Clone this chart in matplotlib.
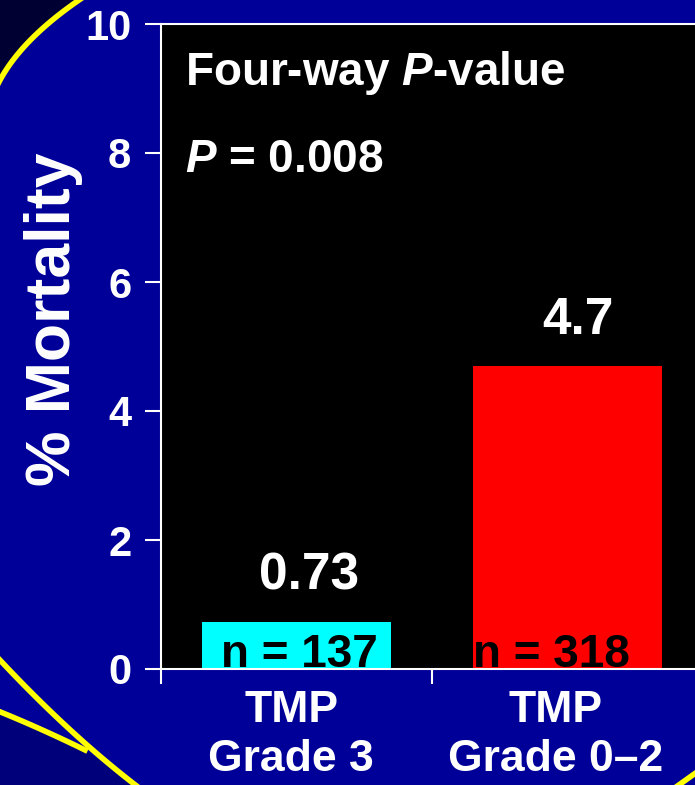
import numpy as np
import matplotlib.pyplot as plt
from matplotlib.lines import Line2D
from matplotlib.patches import Polygon

plt.rcParams['font.family'] = ['Liberation Sans', 'DejaVu Sans']
plt.rcParams['font.weight'] = 'bold'
plt.rcParams['mathtext.fontset'] = 'custom'
plt.rcParams['mathtext.rm'] = 'Liberation Sans:bold'
plt.rcParams['mathtext.it'] = 'Liberation Sans:bold:italic'

# data
groups = ["TMP\nGrade 3", "TMP\nGrade 0\u20132"]
mortality = [0.73, 4.7]
value_labels = ["0.73", "4.7"]
n_counts = [137, 318]
bar_colors = ["#00ffff", "#ff0000"]
yticks = [0, 2, 4, 6, 8, 10]

# small horizontal nudges of the slide's text boxes (in category units)
value_shift = [0.045, 0.04]
n_shift = [0.01, -0.06]
group_shift = [-0.02, -0.045]

W, H = 695, 785
bg = "#000099"
fig = plt.figure(figsize=(W / 100, H / 100), dpi=100, facecolor=bg)


def px(pts):
    # pixel coords (from top-left) -> figure fraction
    pts = np.asarray(pts, float)
    return np.column_stack([pts[:, 0] / W, 1 - pts[:, 1] / H])


def bezier(p0, c, p2, n=40):
    t = np.linspace(0, 1, n)[:, None]
    p0, c, p2 = map(np.asarray, (p0, c, p2))
    return (1 - t) ** 2 * p0 + 2 * (1 - t) * t * c + t ** 2 * p2


# background decoration (slide template)
arc = bezier((82, -2), (20, 40), (-2, 84))
fig.add_artist(Polygon(px(np.vstack([arc, [(0, 0)]])), closed=True,
                       transform=fig.transFigure, facecolor="#000033",
                       edgecolor="none"))
fig.add_artist(Line2D(*px(arc).T, transform=fig.transFigure,
                      color="yellow", lw=4))
lineA = bezier((-2, 658), (70, 735), (138, 787))
lineB = bezier((-2, 711), (40, 728), (85, 750))
bl = np.vstack([lineB, [(138, 787), (0, 787)]])
fig.add_artist(Polygon(px(bl), closed=True, transform=fig.transFigure,
                       facecolor="#00007a", edgecolor="none"))
for ln in (lineA, lineB):
    fig.add_artist(Line2D(*px(ln).T, transform=fig.transFigure,
                          color="yellow", lw=4))
fig.add_artist(Line2D(*px([(676, 787), (697, 772)]).T,
                      transform=fig.transFigure, color="yellow", lw=4))

ax = fig.add_axes([161 / W, 116 / H, 542 / W, 645 / H])
ax.set_facecolor("black")

x = np.arange(len(groups))
ax.bar(x, mortality, width=0.70, color=bar_colors, zorder=2)

for i, (v, lab, n) in enumerate(zip(mortality, value_labels, n_counts)):
    ax.annotate(lab, (i + value_shift[i], v), xytext=(0, 23),
                textcoords="offset points", ha="center", va="baseline",
                color="white", fontsize=37, fontweight="bold")
    ax.text(i + n_shift[i], 0.03, f"n = {n}", ha="center", va="baseline",
            color="black", fontsize=33, fontweight="bold", zorder=3)

ax.text(0.045, 0.905, "Four-way $P$-value", transform=ax.transAxes,
        color="white", fontsize=33, fontweight="bold", va="baseline")
ax.text(0.045, 0.77, "$P$ = 0.008", transform=ax.transAxes,
        color="white", fontsize=33, fontweight="bold", va="baseline")

ax.set_xlim(-0.5, 1.5)
ax.set_ylim(0, 10)
ax.set_yticks(yticks)
ax.set_yticklabels([str(t) for t in yticks])
ax.set_xticks([-0.5, 0.5, 1.5])
ax.set_xticklabels([])
ax.set_xticks(x + np.array(group_shift), minor=True)
ax.set_xticklabels(groups, minor=True, linespacing=1.25)
ax.tick_params(axis="x", which="minor", length=0, pad=15, labelsize=32,
               labelcolor="white")
ax.tick_params(axis="x", which="major", length=11, width=1.5, color="white")
ax.tick_params(axis="y", length=11.5, width=1.5, color="white", pad=10,
               labelsize=30, labelcolor="white")
for lab in ax.get_xticklabels(minor=True) + ax.get_yticklabels():
    lab.set_fontweight("bold")

for s in ax.spines.values():
    s.set_color("white")
    s.set_linewidth(1.5)

ax.set_ylabel("% Mortality", color="white", fontsize=45, fontweight="bold")
ax.yaxis.set_label_coords(-0.144, 0.543)

fig.savefig("out.png", dpi=100, facecolor=bg)
